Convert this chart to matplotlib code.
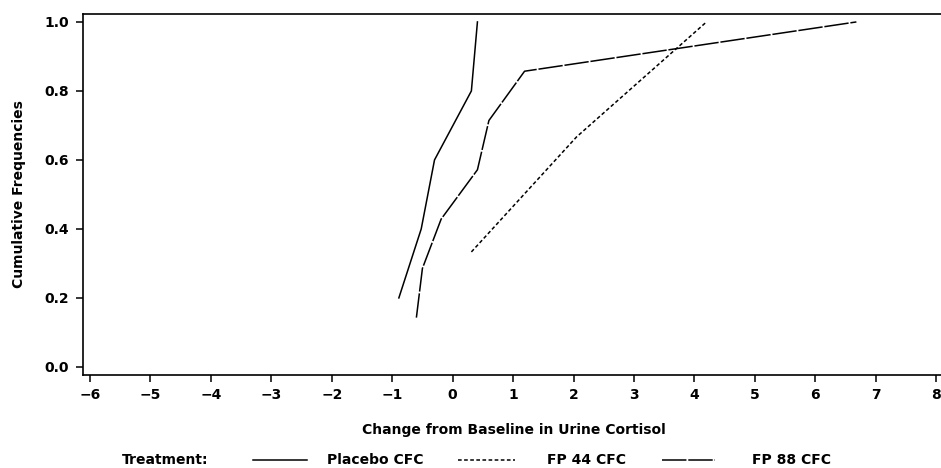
import matplotlib
matplotlib.use("Agg")
import matplotlib.pyplot as plt
from matplotlib.lines import Line2D

# cumulative frequency curves
placebo_x = [-0.89, -0.52, -0.30, 0.31, 0.41]
placebo_y = [0.2, 0.4, 0.6, 0.8, 1.0]

fp44_x = [0.31, 2.05, 4.20]
fp44_y = [1 / 3, 2 / 3, 1.0]

fp88_x = [-0.60, -0.50, -0.19, 0.41, 0.60, 1.19, 6.68]
fp88_y = [1 / 7, 2 / 7, 3 / 7, 4 / 7, 5 / 7, 6 / 7, 1.0]

x_ticks = list(range(-6, 9))
y_ticks = [0.0, 0.2, 0.4, 0.6, 0.8, 1.0]
y_tick_labels = ["0.0", "0.2", "0.4", "0.6", "0.8", "1.0"]

legend_names = ["Placebo CFC", "FP 44 CFC", "FP 88 CFC"]

plt.rcParams["font.family"] = ["DejaVu Sans"]
FS = 10

fig = plt.figure(figsize=(9.41, 4.68), dpi=100)
ax = fig.add_axes([83 / 941, (468 - 374.5) / 468, 858 / 941, 360.5 / 468])

lw = 1.1
styles = [
    dict(color="black", lw=lw, linestyle="-"),
    dict(color="black", lw=lw, dashes=(2.4, 1.6)),
    dict(color="black", lw=lw, dashes=(16, 1.2)),
]

ax.plot(placebo_x, placebo_y, **styles[0])
ax.plot(fp44_x, fp44_y, **styles[1])
ax.plot(fp88_x, fp88_y, **styles[2])

ax.set_xlim(-6.116, 8.08)
ax.set_ylim(-0.022, 1.023)
ax.set_xticks(x_ticks)
ax.set_xticklabels([str(t).replace("-", "\u2212") for t in x_ticks],
                   fontsize=FS, fontweight="bold")
ax.set_yticks(y_ticks)
ax.set_yticklabels(y_tick_labels, fontsize=FS, fontweight="bold")
ax.tick_params(direction="out", length=5, width=1.1, pad=5)
ax.spines["right"].set_visible(False)
for s in ["left", "top", "bottom"]:
    ax.spines[s].set_linewidth(1.2)

fig.text(19 / 941, 1 - 194 / 468, "Cumulative Frequencies", rotation=90,
         fontsize=FS, fontweight="bold", ha="center", va="center")
fig.text(514 / 941, 1 - 430 / 468, "Change from Baseline in Urine Cortisol",
         fontsize=FS, fontweight="bold", ha="center", va="center")

# legend row along the bottom
ly = 1 - 460 / 468
fig.text(122 / 941, ly, "Treatment:", fontsize=FS, fontweight="bold", va="center")
line_spans = [(253, 307), (458, 515), (662, 715)]
text_x = [327, 547, 752]
for (x0, x1), tx, name, st in zip(line_spans, text_x, legend_names, styles):
    fig.add_artist(Line2D([x0 / 941, x1 / 941], [ly, ly], transform=fig.transFigure, **st))
    fig.text(tx / 941, ly, name, fontsize=FS, fontweight="bold", va="center")

fig.savefig("out.png", dpi=100)
